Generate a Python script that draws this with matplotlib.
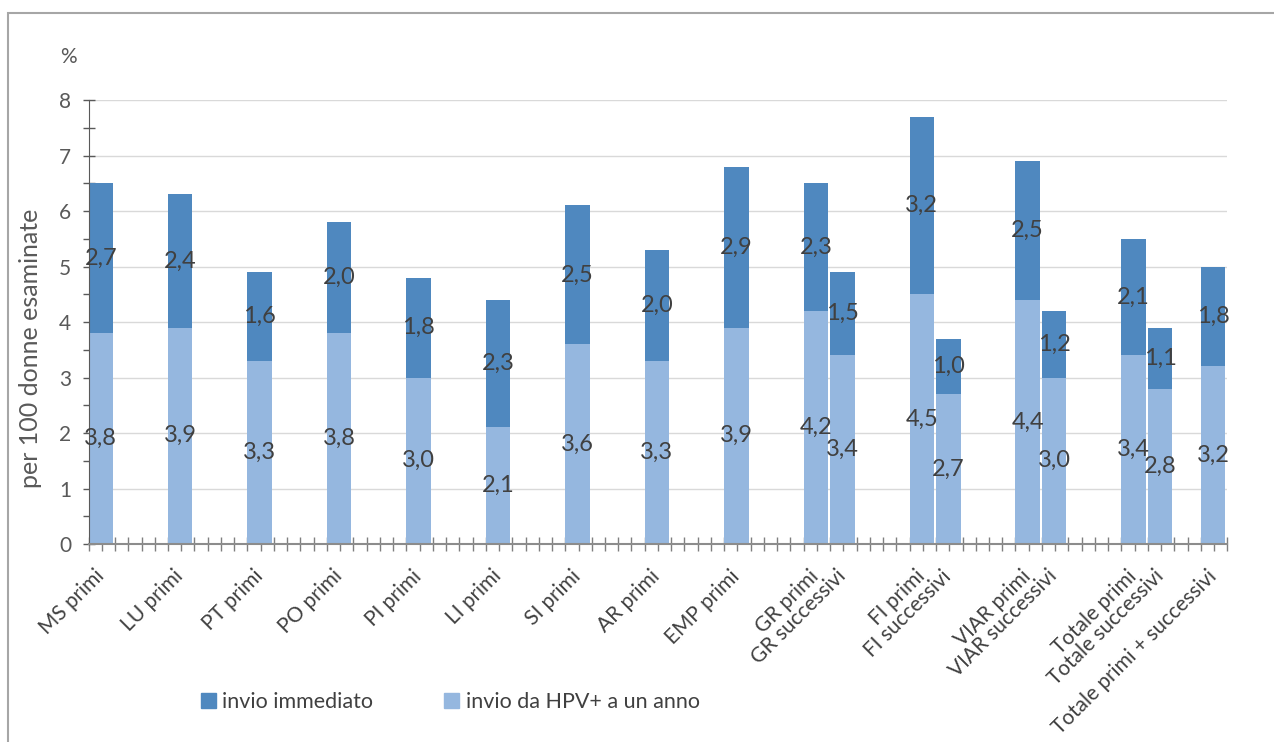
import numpy as np
import matplotlib
matplotlib.use('Agg')
import matplotlib.pyplot as plt
from matplotlib.patches import Patch, Rectangle
from matplotlib.ticker import MultipleLocator
from matplotlib.transforms import ScaledTranslation

plt.rcParams['font.family'] = ['Lato', 'DejaVu Sans']

# categories grouped as they sit on the axis (pairs share a block)
groups = [
    ['MS primi'], ['LU primi'], ['PT primi'], ['PO primi'], ['PI primi'],
    ['LI primi'], ['SI primi'], ['AR primi'], ['EMP primi'],
    ['GR primi', 'GR successivi'],
    ['FI primi', 'FI successivi'],
    ['VIAR primi', 'VIAR successivi'],
    ['Totale primi', 'Totale successivi'],
    ['Totale primi + successivi'],
]
categories = [c for g in groups for c in g]

# per 100 donne esaminate
invio_hpv_anno = [3.8, 3.9, 3.3, 3.8, 3.0, 2.1, 3.6, 3.3, 3.9,
                  4.2, 3.4, 4.5, 2.7, 4.4, 3.0, 3.4, 2.8, 3.2]
invio_immediato = [2.7, 2.4, 1.6, 2.0, 1.8, 2.3, 2.5, 2.0, 2.9,
                   2.3, 1.5, 3.2, 1.0, 2.5, 1.2, 2.1, 1.1, 1.8]

C_DARK = '#4F88BF'
C_LIGHT = '#95B7DF'
C_TEXT = '#404040'
C_AXIS = '#595959'

# axis is split in unit slots; each bar takes two, blocks are spaced apart
gap_before = [4] * (len(groups) - 1) + [2]
lefts = []
pos = 0
for i, g in enumerate(groups):
    if i > 0:
        pos += gap_before[i]
    for _ in g:
        lefts.append(pos)
        pos += 2
n_slots = pos
bar_w = 1.85
centers = np.array(lefts) + bar_w / 2

fig = plt.figure(figsize=(12.74, 7.42), dpi=100)
ax = fig.add_axes([0.0695, 0.2668, 0.8939, 0.5984])

light = np.array(invio_hpv_anno)
dark = np.array(invio_immediato)
ax.bar(lefts, light, width=bar_w, align='edge', color=C_LIGHT, zorder=2)
ax.bar(lefts, dark, width=bar_w, bottom=light, align='edge', color=C_DARK, zorder=2)

fmt = lambda v: f'{v:.1f}'.replace('.', ',')
for x, lo, hi in zip(centers, light, dark):
    ax.text(x, lo / 2, fmt(lo), ha='center', va='center', fontsize=17,
            color=C_TEXT, zorder=4)
    ax.text(x, lo + hi / 2, fmt(hi), ha='center', va='center', fontsize=17,
            color=C_TEXT, zorder=4)

ax.set_xlim(0, n_slots)
ax.set_ylim(0, 8)
ax.yaxis.set_major_locator(MultipleLocator(1))
ax.yaxis.set_minor_locator(MultipleLocator(0.5))
ax.xaxis.set_minor_locator(MultipleLocator(1))
ax.set_xticks(centers)
ax.set_xticklabels(categories, rotation=45, ha='right', va='center',
                   rotation_mode='anchor', fontsize=15, color=C_TEXT)
for lab in ax.get_xticklabels():
    lab.set_transform(lab.get_transform() + ScaledTranslation(0.05, 0, fig.dpi_scale_trans))

ax.tick_params(axis='x', which='major', length=0, pad=21)
ax.tick_params(axis='x', which='minor', direction='inout', length=10, width=1, color='#7F7F7F')
ax.tick_params(axis='y', which='both', direction='inout', length=9, width=1, color=C_AXIS,
               labelsize=15, labelcolor=C_AXIS, pad=8)

ax.grid(axis='y', which='major', color='#D9D9D9', linewidth=1, zorder=0)
ax.set_axisbelow(True)
for s in ['top', 'right']:
    ax.spines[s].set_visible(False)
ax.spines['left'].set_color(C_AXIS)
ax.spines['bottom'].set_color('#8C8C8C')
ax.spines['bottom'].set_linewidth(1.5)
ax.spines['bottom'].set_zorder(3)

ax.set_ylabel('per 100 donne esaminate', fontsize=18, color=C_AXIS)
ax.yaxis.set_label_coords(-0.041, 0.44)
fig.text(68 / 1274, 1 - 57 / 742, '%', fontsize=15, color=C_AXIS, ha='center', va='center')

handles = [Patch(color=C_DARK, label='invio immediato'),
           Patch(color=C_LIGHT, label='invio da HPV+ a un anno')]
fig.legend(handles=handles, loc='center left', bbox_to_anchor=(190 / 1274, 1 - 702 / 742),
           ncol=2, frameon=False, fontsize=15.5, handlelength=0.7, handleheight=0.7,
           handletextpad=0.3, columnspacing=3.3, borderpad=0, labelcolor=C_TEXT)

# outer chart frame
fig.patches.append(Rectangle((8 / 1274, -0.1), 1.2, 1.1 - 13 / 742, transform=fig.transFigure,
                             fill=False, edgecolor='#A6A6A6', linewidth=1.5))

fig.savefig('out.png', dpi=100)
